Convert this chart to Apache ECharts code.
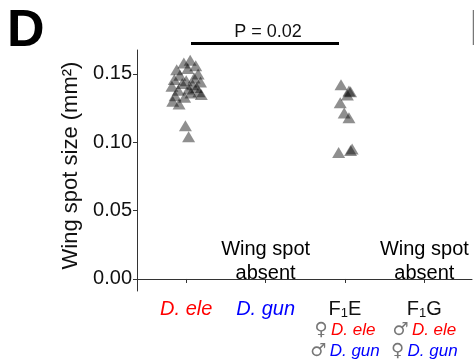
<!DOCTYPE html>
<html>
<head>
    <meta charset="utf-8">
    <title>Wing spot size</title>
    <script src="https://cdn.jsdelivr.net/npm/echarts@6/dist/echarts.min.js"></script>
    <style type="text/css">
        *{margin: 0;padding: 0;}
        body{background: #fff;}
        #main{width: 474px;height: 363px;}
    </style>
</head>
<body>
<div id="main"></div>
<script type="text/javascript">
    // groups on the x axis (1..4)
    var groupPos = [1, 2, 3, 4];
    // D. ele points: x (group 1 + jitter), wing spot size
    var eleX = [1.05, 0.97, 1.12, 0.88, 1.02, 1.15, 0.92, 1.10, 0.85, 1.00, 1.18, 0.95, 1.08, 0.82, 1.13,
                1.03, 0.90, 1.16, 1.06, 0.86, 1.19, 0.98, 0.83, 0.91, 0.99, 1.03];
    var eleY = [0.160, 0.158, 0.156, 0.153, 0.154, 0.150, 0.149, 0.147, 0.146, 0.145, 0.144, 0.143, 0.142, 0.141, 0.140,
                0.139, 0.138, 0.137, 0.136, 0.134, 0.135, 0.133, 0.130, 0.128, 0.112, 0.104];
    // F1E points
    var f1eX = [2.95, 3.05, 3.03, 3.07, 2.94, 2.99, 3.05, 2.92, 3.09, 3.07];
    var f1eY = [0.142, 0.1375, 0.1345, 0.137, 0.129, 0.1215, 0.118, 0.0925, 0.095, 0.094];
    // groups without a wing spot
    var absentX = [2, 4];
    var absentY = [0.0128, 0.0128];
    var yTicks = [0, 0.05, 0.10, 0.15];
    var pText = 'P = 0.02';

    var xLabels = [
        '{r|D. ele}',
        '{b|D. gun}',
        '{k|F}{sub|1}{k|E}\n{g|♀} {r2|D. ele}\n{g|♂} {b2|D. gun}',
        '{k|F}{sub|1}{k|G}\n{g|♂} {r2|D. ele}\n{g|♀} {b2|D. gun}'
    ];

    function pairs(xs, ys){
        var out = [];
        for(var i=0;i<xs.length;i++){
            out.push([xs[i], ys[i]]);
        }
        return out;
    }

    var font = 'Liberation Sans, Arial, sans-serif';
    var myChart = echarts.init(document.getElementById('main'));
    var option = {
        animation: false,
        textStyle: {fontFamily: font},
        grid: {left: 137, right: 2, top: 50, bottom: 72, containLabel: false, outerBoundsMode: 'none'},
        xAxis: {
            type: 'value',
            min: 0.38,
            max: 4.6,
            splitLine: {show: false},
            axisLine: {lineStyle: {color: '#333', width: 1}},
            axisTick: {customValues: groupPos, length: 4, lineStyle: {color: '#333'}},
            axisLabel: {
                customValues: groupPos,
                margin: 7,
                formatter: function(v){ return xLabels[Math.round(v) - 1]; },
                rich: {
                    r: {color: '#ff0000', fontStyle: 'italic', fontSize: 20, lineHeight: 22, fontFamily: font},
                    b: {color: '#0000ff', fontStyle: 'italic', fontSize: 20, lineHeight: 22, fontFamily: font},
                    k: {color: '#111', fontSize: 20, lineHeight: 22, fontFamily: font},
                    sub: {color: '#111', fontSize: 13, lineHeight: 22, verticalAlign: 'bottom', fontFamily: font},
                    g: {color: '#777', fontSize: 18, lineHeight: 21, fontFamily: 'DejaVu Sans'},
                    r2: {color: '#ff0000', fontStyle: 'italic', fontSize: 17, lineHeight: 21, fontFamily: font},
                    b2: {color: '#0000ff', fontStyle: 'italic', fontSize: 17, lineHeight: 21, fontFamily: font}
                }
            }
        },
        yAxis: {
            type: 'value',
            min: -0.0088,
            max: 0.1675,
            name: 'Wing spot size (mm²)',
            nameLocation: 'middle',
            nameGap: 46,
            nameTextStyle: {fontSize: 22, color: '#111', fontFamily: font, padding: [0, 0, 0, 10]},
            splitLine: {show: false},
            axisLine: {show: true, lineStyle: {color: '#333', width: 1}},
            axisTick: {show: true, customValues: yTicks, length: 4, lineStyle: {color: '#333'}},
            axisLabel: {
                customValues: yTicks,
                margin: 5,
                fontSize: 20,
                color: '#111',
                formatter: function(v){ return v.toFixed(2); }
            }
        },
        series: [{
            name: 'D. ele',
            type: 'scatter',
            symbol: 'triangle',
            symbolSize: [13, 11],
            itemStyle: {color: 'rgba(0,0,0,0.55)'},
            data: pairs(eleX, eleY)
        },{
            name: 'F1E',
            type: 'scatter',
            symbol: 'triangle',
            symbolSize: [13, 11],
            itemStyle: {color: 'rgba(0,0,0,0.55)'},
            data: pairs(f1eX, f1eY)
        },{
            name: 'absent',
            type: 'scatter',
            symbolSize: 1,
            itemStyle: {color: 'rgba(255,255,255,0)', opacity: 1},
            label: {
                show: true,
                position: 'inside',
                formatter: 'Wing spot\nabsent',
                fontSize: 20,
                lineHeight: 24,
                color: '#000',
                opacity: 1,
                textBorderWidth: 0,
                fontFamily: font
            },
            data: pairs(absentX, absentY)
        }],
        graphic: [
            {type: 'text', left: 7, top: 6, style: {text: 'D', font: 'bold 52px ' + font, fill: '#000'}},
            {type: 'text', x: 268, y: 32, style: {text: pText, font: '18px ' + font, fill: '#111', align: 'center', verticalAlign: 'middle'}},
            {type: 'rect', shape: {x: 191, y: 42, width: 148, height: 3}, style: {fill: '#000'}},
            {type: 'line', shape: {x1: 473.5, y1: 10, x2: 473.5, y2: 45}, style: {stroke: '#777', lineWidth: 1.5}}
        ]
    };
    myChart.setOption(option);
</script>
</body>
</html>
